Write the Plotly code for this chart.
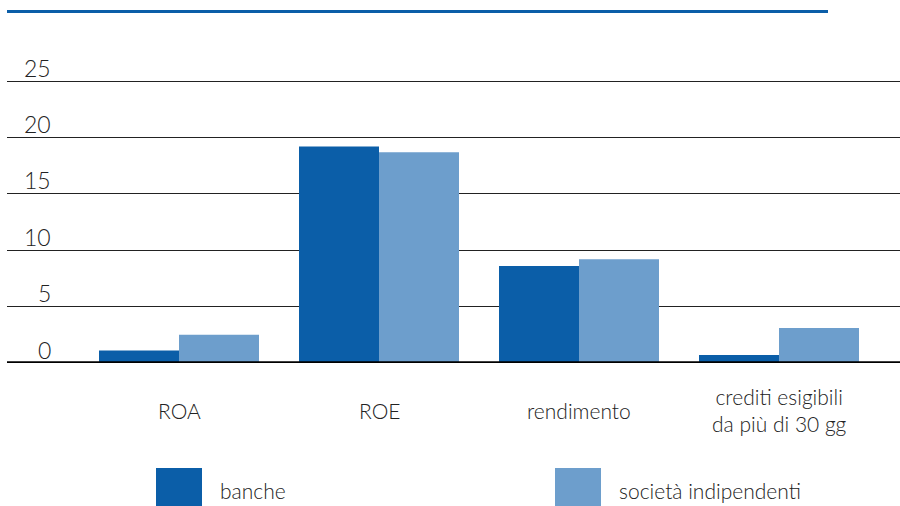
import plotly.graph_objects as go

# Data
categories = ["ROA", "ROE", "rendimento", "crediti esigibili<br>da più di 30 gg"]
banche = [1.1, 19.2, 8.6, 0.7]
indipendenti = [2.5, 18.7, 9.2, 3.1]
series_names = ["banche", "società indipendenti"]
y_ticks = [0, 5, 10, 15, 20, 25]
y_max = 25.1

DARK = "#0b5ea8"
LIGHT = "#6d9ecc"
TEXT = "#222222"
FONT = "Lato"
WEIGHT = 300

W, H = 900, 506
L, R, T, B = 7, 0, 80, 143
PW, PH = W - L - R, H - T - B


def px_x(px):
    return (px - L) / PW


def px_y(py):
    return (H - B - py) / PH


fig = go.Figure()
fig.add_trace(go.Bar(x=list(range(len(categories))), y=banche, name=series_names[0],
                     marker=dict(color=DARK, line=dict(width=0))))
fig.add_trace(go.Bar(x=list(range(len(categories))), y=indipendenti, name=series_names[1],
                     marker=dict(color=LIGHT, line=dict(width=0))))

# category spacing of 200 px, first group centred at x = 179 px
x0 = -(179 - L) / 200
x1 = x0 + PW / 200

annotations = []
for v in y_ticks:
    annotations.append(dict(text=str(v), xref="paper", x=px_x(53), xanchor="right",
                            yref="y", y=v, yanchor="middle", yshift=13.5, showarrow=False,
                            font=dict(size=23, color=TEXT, family=FONT, weight=WEIGHT)))
for i, c in enumerate(categories):
    annotations.append(dict(text=c, xref="x", x=i, xanchor="center",
                            yref="paper", y=px_y(410), yanchor="middle", showarrow=False,
                            font=dict(size=21, color=TEXT, family=FONT, weight=WEIGHT)))

shapes = [
    # baseline
    dict(type="line", xref="paper", yref="y", x0=0, x1=1, y0=0, y1=0,
         line=dict(color="#000000", width=3.5), layer="above"),
    # top rule
    dict(type="line", xref="paper", yref="paper", x0=px_x(7), x1=px_x(828),
         y0=px_y(11.4), y1=px_y(11.4), line=dict(color=DARK, width=3)),
]

# legend: large colour squares with labels
legend_items = [(series_names[0], DARK, 156), (series_names[1], LIGHT, 555)]
for name, col, lx in legend_items:
    shapes.append(dict(type="rect", xref="paper", yref="paper",
                       x0=px_x(lx), x1=px_x(lx + 46), y0=px_y(468), y1=px_y(507),
                       fillcolor=col, line=dict(width=0)))
    annotations.append(dict(text=name, xref="paper", x=px_x(lx + 62), xanchor="left",
                            yref="paper", y=px_y(490), yanchor="middle", showarrow=False,
                            font=dict(size=21, color=TEXT, family=FONT, weight=WEIGHT)))

fig.update_layout(
    width=W, height=H,
    margin=dict(l=L, r=R, t=T, b=B, pad=0),
    paper_bgcolor="white", plot_bgcolor="white",
    barmode="group", bargap=0.2, bargroupgap=0,
    showlegend=False,
    font=dict(family=FONT, color=TEXT, size=21, weight=WEIGHT),
    xaxis=dict(range=[x0, x1], showgrid=False, showticklabels=False, ticks="",
               zeroline=False, showline=False, fixedrange=True),
    yaxis=dict(range=[0, y_max], tickvals=y_ticks, showticklabels=False, ticks="",
               showgrid=True, gridcolor="#222222", gridwidth=1,
               zeroline=False, showline=False, fixedrange=True),
    shapes=shapes,
    annotations=annotations,
)

fig.write_html("out.html", config={"displayModeBar": False})
